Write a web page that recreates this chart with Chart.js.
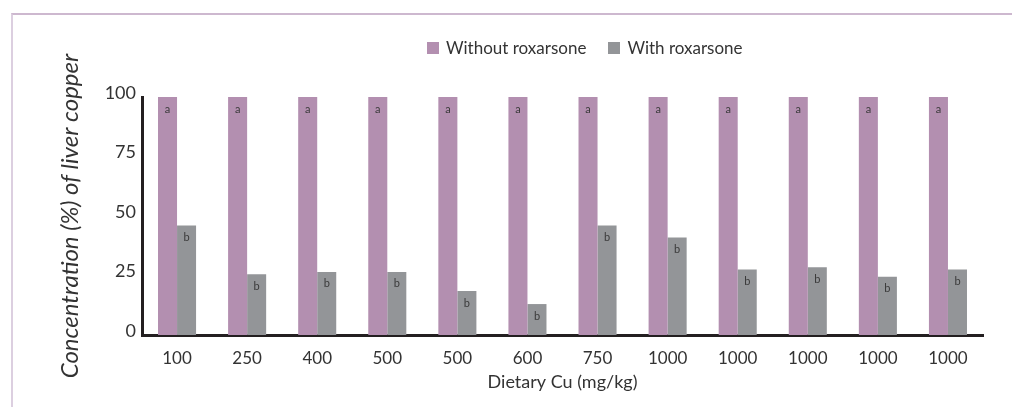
<!DOCTYPE html>
<html>
<head>
<meta charset="utf-8">
<script src="https://cdn.jsdelivr.net/npm/chart.js@4.4.1/dist/chart.umd.min.js"></script>
<style>
  html, body { margin: 0; padding: 0; background: #fff; }
  #wrap { position: relative; width: 1012px; height: 407px; overflow: hidden; font-family: Lato, "Open Sans", sans-serif; }
  #frame { position: absolute; left: 11px; top: 13px; right: 0; bottom: 0; border-top: 2px solid #cdb8cf; border-left: 2px solid #dccfe0; }
  #legend { position: absolute; top: 37px; left: 427px; display: flex; align-items: center; font-size: 17px; color: #333; white-space: nowrap; }
  #legend span.box { display: inline-block; width: 12px; height: 12px; margin-right: 7px; }
  #legend span.item { display: inline-flex; align-items: center; margin-right: 22px; }
  canvas { position: absolute; left: 0; top: 0; }
</style>
</head>
<body>
<div id="wrap">
  <div id="frame"></div>
  <canvas id="chart" width="1012" height="407"></canvas>
  <div id="legend"></div>
</div>
<script>
// chart data
const doseLabels = ['100', '250', '400', '500', '500', '600', '750', '1000', '1000', '1000', '1000', '1000'];
const withoutRoxarsone = [100, 100, 100, 100, 100, 100, 100, 100, 100, 100, 100, 100];
const withRoxarsone = [46, 25.5, 26.5, 26.5, 18.5, 13, 46, 41, 27.5, 28.5, 24.5, 27.5];
const lettersWithout = ['a', 'a', 'a', 'a', 'a', 'a', 'a', 'a', 'a', 'a', 'a', 'a'];
const lettersWith = ['b', 'b', 'b', 'b', 'b', 'b', 'b', 'b', 'b', 'b', 'b', 'b'];
const yTicks = [0, 25, 50, 75, 100];

const purple = '#b38fb0';
const grey = '#939598';
const sigLetters = [lettersWithout, lettersWith];

// draws the a / b marks near the top of each bar
const letterPlugin = {
  id: 'letters',
  afterDatasetsDraw(chart) {
    const ctx = chart.ctx;
    ctx.save();
    ctx.font = '11px Lato, sans-serif';
    ctx.fillStyle = '#3a3a3a';
    ctx.textAlign = 'center';
    ctx.textBaseline = 'middle';
    chart.data.datasets.forEach((ds, i) => {
      chart.getDatasetMeta(i).data.forEach((bar, j) => {
        ctx.fillText(sigLetters[i][j], bar.x, bar.y + 12);
      });
    });
    ctx.restore();
  }
};

const ctx = document.getElementById('chart').getContext('2d');
const chart = new Chart(ctx, {
  type: 'bar',
  data: {
    labels: doseLabels,
    datasets: [
      { label: 'Without roxarsone', data: withoutRoxarsone, backgroundColor: purple },
      { label: 'With roxarsone', data: withRoxarsone, backgroundColor: grey }
    ]
  },
  options: {
    responsive: false,
    animation: false,
    devicePixelRatio: 1,
    categoryPercentage: 0.543,
    barPercentage: 1,
    layout: { padding: { left: 0, right: 29, top: 97, bottom: 0 } },
    plugins: {
      legend: { display: false },
      tooltip: { enabled: false }
    },
    scales: {
      x: {
        grid: { display: false, drawTicks: false },
        border: { display: true, color: '#231f20', width: 3 },
        ticks: { color: '#333', font: { family: 'Lato', size: 17 }, padding: 13 },
        title: { display: true, text: 'Dietary Cu (mg/kg)', color: '#333', font: { family: 'Lato', size: 18 }, padding: { top: 0, bottom: 14 } },
        afterFit(scale) { scale.height = 72; }
      },
      y: {
        min: 0,
        max: 100,
        afterBuildTicks(scale) { scale.ticks = yTicks.map(v => ({ value: v })); },
        grid: { display: false, drawTicks: false },
        border: { display: true, color: '#231f20', width: 3 },
        ticks: { color: '#333', font: { family: 'Lato', size: 18 }, padding: 6, labelOffset: -4 },
        title: { display: true, text: 'Concentration (%) of liver copper', color: '#333', font: { family: 'Lato', size: 24, style: 'italic' }, padding: { top: 56, bottom: 0 } },
        afterFit(scale) { scale.width = 142; }
      }
    }
  },
  plugins: [letterPlugin]
});

// legend as html, built from the datasets
const legendEl = document.getElementById('legend');
chart.data.datasets.forEach(ds => {
  const item = document.createElement('span');
  item.className = 'item';
  item.innerHTML = '<span class="box" style="background:' + ds.backgroundColor + '"></span>' + ds.label;
  legendEl.appendChild(item);
});
</script>
</body>
</html>
